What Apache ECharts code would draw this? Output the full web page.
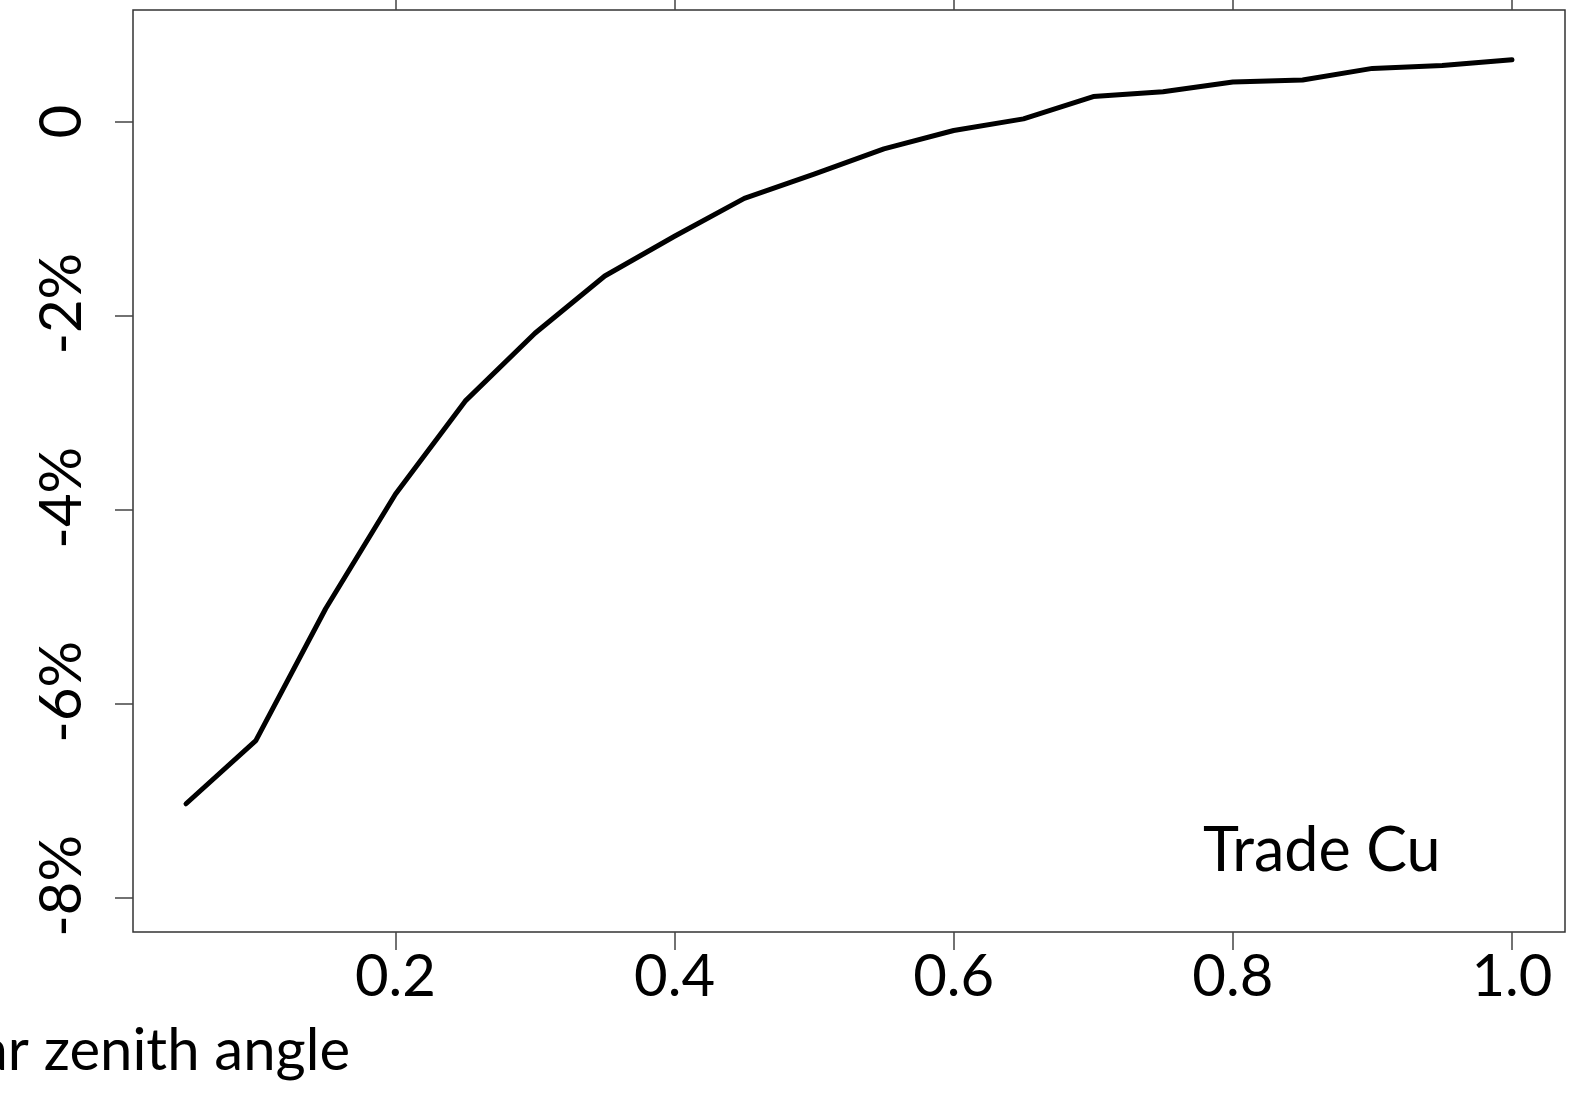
<!DOCTYPE html>
<html>
<head>
    <meta charset="utf-8">
    <style type="text/css">
        html,body { margin: 0px; padding: 0px; background: #fff; }
        #main { width: 1588px; height: 1094px; }
    </style>
    <script src="https://cdn.jsdelivr.net/npm/echarts@6/dist/echarts.min.js"></script>
</head>
<body>
    <div id="main"></div>
    <script type="text/javascript">
        // data
        var zenith = [0.05, 0.10, 0.15, 0.20, 0.25, 0.30, 0.35, 0.40, 0.45, 0.50,
                      0.55, 0.60, 0.65, 0.70, 0.75, 0.80, 0.85, 0.90, 0.95, 1.00];
        var change = [-7.03, -6.38, -5.02, -3.84, -2.88, -2.18, -1.59, -1.18, -0.79, -0.54,
                      -0.28, -0.09, 0.03, 0.26, 0.31, 0.41, 0.43, 0.55, 0.58, 0.64];
        var xTicks = [0.2, 0.4, 0.6, 0.8, 1.0];
        var yTicks = [0, -2, -4, -6, -8];

        var font = 'Lato, "Open Sans", sans-serif';
        var chart = echarts.init(document.getElementById('main'));

        var points = zenith.map(function (x, i) { return [x, change[i]]; });
        var tickStyle = { color: '#444', width: 1.5 };

        var option = {
            animation: false,
            grid: {
                left: 133, right: 23, top: 10, bottom: 162,
                show: true, borderColor: '#333', borderWidth: 1.5, backgroundColor: 'transparent'
            },
            xAxis: [{
                type: 'value', position: 'bottom',
                min: 0.012, max: 1.038,
                splitLine: { show: false },
                axisLine: { show: false, onZero: false },
                axisTick: { show: true, length: 18, customValues: xTicks, lineStyle: tickStyle },
                axisLabel: {
                    customValues: xTicks, margin: 16,
                    fontFamily: font, fontSize: 58, color: '#000',
                    formatter: function (v) { return v.toFixed(1); }
                }
            }, {
                type: 'value', position: 'top',
                min: 0.012, max: 1.038,
                splitLine: { show: false },
                axisLine: { show: false, onZero: false },
                axisTick: { show: true, length: 18, customValues: xTicks, lineStyle: tickStyle },
                axisLabel: { show: false }
            }],
            yAxis: {
                type: 'value',
                min: -8.352, max: 1.152,
                splitLine: { show: false },
                axisLine: { show: false, onZero: false },
                axisTick: { show: true, length: 18, customValues: yTicks, lineStyle: tickStyle },
                axisLabel: {
                    customValues: yTicks, rotate: 90, margin: 42,
                    fontFamily: font, fontSize: 58, color: '#000',
                    formatter: function (v) { return v === 0 ? '0' : '{p|' + v + '%}'; },
                    rich: { p: { fontFamily: font, fontSize: 58, color: '#000', padding: [0, 0, 0, 24] } }
                }
            },
            series: [{
                type: 'line',
                xAxisIndex: 0,
                data: points,
                showSymbol: false,
                lineStyle: { color: '#000', width: 5, cap: 'round', join: 'round' }
            }],
            graphic: [{
                type: 'text',
                left: 1203, top: 821,
                style: { text: 'Trade Cu', fontFamily: font, fontSize: 61, fill: '#000' }
            }, {
                type: 'text',
                x: 350, y: 1022,
                style: { text: 'Solar zenith angle', fontFamily: font, fontSize: 58, fill: '#000',
                         align: 'right', verticalAlign: 'top' }
            }]
        };

        chart.setOption(option);
        window.onresize = chart.resize;
    </script>
</body>
</html>
